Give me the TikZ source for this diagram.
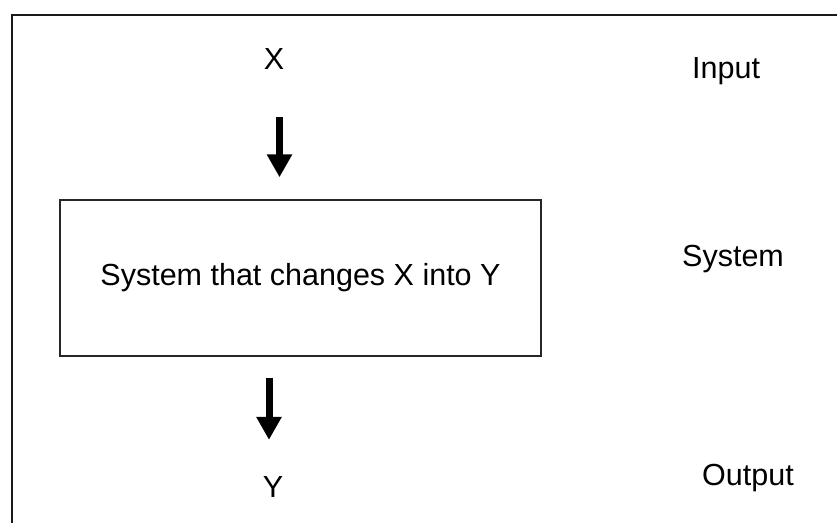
\documentclass[tikz,border=0pt]{standalone}
\usepackage{fontspec}
\setmainfont{Liberation Sans}
\usetikzlibrary{arrows.meta}
\tikzset{
  lbl/.style={inner sep=0pt, font=\fontsize{30.5}{36}\selectfont},
  sysbox/.style={draw=black!85, line width=1.3pt, minimum width=481pt, minimum height=156pt, inner sep=0pt, font=\fontsize{30.5}{36}\selectfont},
  blockarrow/.style={line width=7pt, -{Triangle[width=24pt,length=23pt]}},
  frameline/.style={line width=1.6pt, black!90}
}
\begin{document}
\begin{tikzpicture}[x=1pt,y=1pt]
\useasboundingbox (0,0) rectangle (837,522);
% outer frame (top and left edges visible)
\coordinate (ftl) at (12,507);
\coordinate (ftr) at (840,507);
\coordinate (fbl) at (12,-5);
\draw[frameline] (fbl) -- (ftl) -- (ftr);
% texts
\node[lbl, anchor=base] (X) at (274,452) {X};
\node[lbl, anchor=base] (Y) at (273,25) {Y};
\node[sysbox] (box) at (300.5,244) {System that changes X into Y};
\node[lbl, anchor=base west] (input) at (692,443) {Input};
\node[lbl, anchor=base west] (system) at (682,255) {System};
\node[lbl, anchor=base west] (output) at (702,37) {Output};
% arrows
\draw[blockarrow, shorten <=47pt, shorten >=22pt] ([xshift=5.5pt]X.south) -- ([xshift=5.5pt]X.south |- box.north);
\draw[blockarrow, shorten <=21pt, shorten >=36pt] ([xshift=-4pt]Y.north |- box.south) -- ([xshift=-4pt]Y.north);
\end{tikzpicture}
\end{document}
